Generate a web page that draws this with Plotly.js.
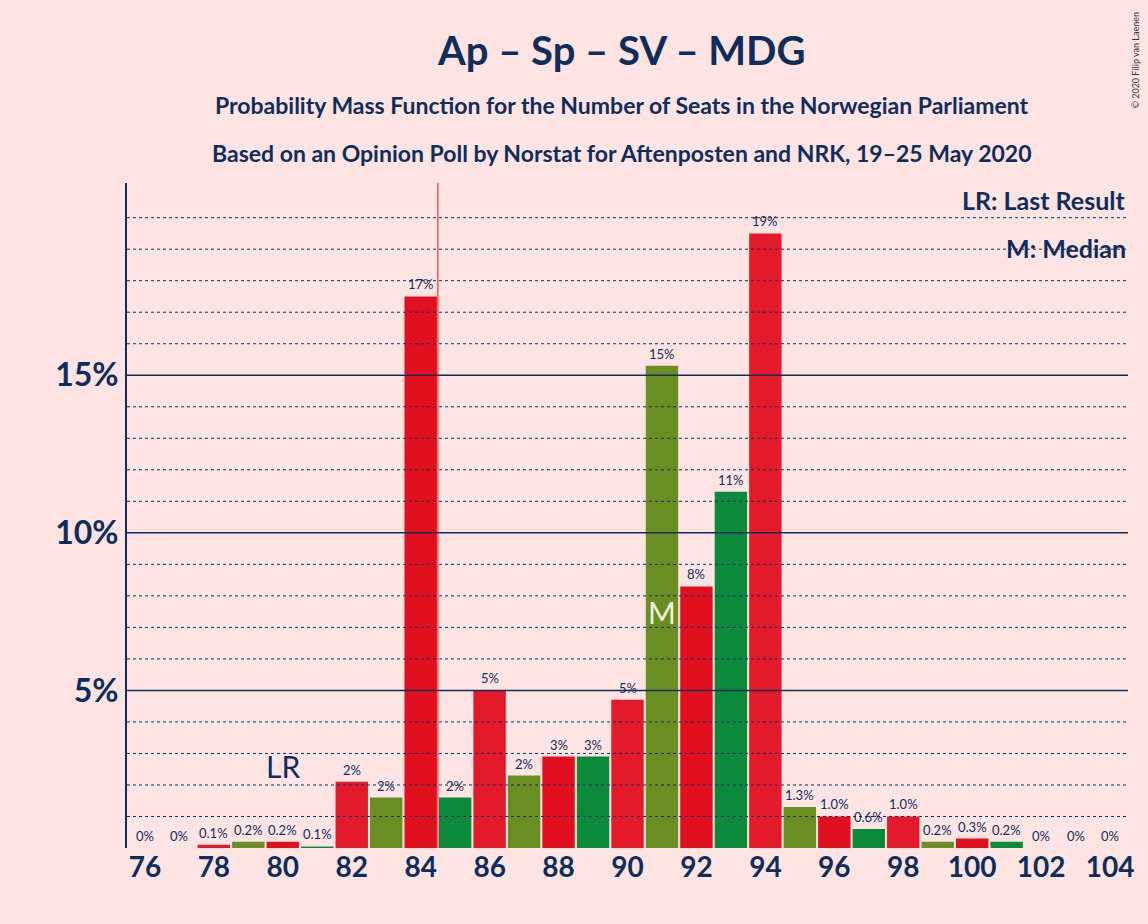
<!DOCTYPE html>
<html><head><meta charset="utf-8">
<script src="https://cdn.plot.ly/plotly-3.0.1.min.js"></script>
<style>body{margin:0;background:#FFE4E4}</style></head>
<body><div id="c" style="width:1148px;height:924px"></div>
<script>
const seats = [76,77,78,79,80,81,82,83,84,85,86,87,88,89,90,91,92,93,94,95,96,97,98,99,100,101,102,103,104];
const probs = [0,0,0.1,0.2,0.2,0.05,2.1,1.6,17.5,1.6,5.0,2.3,2.9,2.9,4.7,15.3,8.3,11.3,19.5,1.3,1.0,0.6,1.0,0.2,0.3,0.2,0,0,0];
const labels = ["0%","0%","0.1%","0.2%","0.2%","0.1%","2%","2%","17%","2%","5%","2%","3%","3%","5%","15%","8%","11%","19%","1.3%","1.0%","0.6%","1.0%","0.2%","0.3%","0.2%","0%","0%","0%"];
const colors = seats.map(s=> s%2===0 ? (s%4===0?"#E0101E":"#E31A2A") : (s%4===3?"#6B8E23":"#0A8A3A"));
const navy = "#0F2D5A";
const shapes = [];
for (let v=1; v<=20; v++) {
  if (v%5===0 && v<20) shapes.push({type:'line',xref:'paper',x0:0,x1:1,y0:v,y1:v,line:{color:navy,width:1.5}});
  else shapes.push({type:'line',xref:'paper',x0:0,x1:1,y0:v,y1:v,line:{color:navy,width:1,dash:'dot'}});
}
shapes.push({type:'line',x0:84.5,x1:84.5,yref:'paper',y0:0,y1:1,line:{color:'#E0101E',width:1}});
const annotations = seats.map((s,i)=>({x:s,y:probs[i],text:labels[i],showarrow:false,yanchor:'bottom',yshift:2,font:{size:13,color:navy,family:'Lato'}}));
annotations.push({x:80,y:2.6,text:'LR',showarrow:false,font:{size:30,color:navy,family:'Lato'}});
annotations.push({x:91,y:7.5,text:'M',showarrow:false,font:{size:30,color:'#F0F0E0',family:'Lato'}});
annotations.push({xref:'paper',yref:'paper',x:1,y:0.974,xanchor:'right',yanchor:'middle',text:'<b>LR: Last Result</b>',showarrow:false,font:{size:25,color:navy,family:'Lato'}});
annotations.push({xref:'paper',yref:'paper',x:1,y:0.902,xanchor:'right',yanchor:'middle',text:'<b>M: Median</b>',showarrow:false,font:{size:25,color:navy,family:'Lato'}});
annotations.push({xref:'paper',yref:'paper',x:0.5,xshift:-6,y:1.2,yanchor:'middle',text:'<b>Ap – Sp – SV – MDG</b>',showarrow:false,font:{size:40,color:navy,family:'Lato'}});
annotations.push({xref:'paper',yref:'paper',x:0.5,xshift:-6,y:1.117,yanchor:'middle',text:'<b>Probability Mass Function for the Number of Seats in the Norwegian Parliament</b>',showarrow:false,font:{size:23,color:navy,family:'Lato'}});
annotations.push({xref:'paper',yref:'paper',x:0.5,xshift:-6,y:1.045,yanchor:'middle',text:'<b>Based on an Opinion Poll by Norstat for Aftenposten and NRK, 19–25 May 2020</b>',showarrow:false,font:{size:23,color:navy,family:'Lato'}});
annotations.push({xref:'paper',yref:'paper',x:1.0,xshift:8,y:1.26,xanchor:'center',yanchor:'top',text:'© 2020 Filip van Laenen',textangle:-90,showarrow:false,font:{size:9,color:'#333',family:'Lato'}});
Plotly.newPlot('c',[{type:'bar',x:seats,y:probs,marker:{color:colors},hoverinfo:'none'}],{
  width:1148,height:924,paper_bgcolor:'#FFE4E4',plot_bgcolor:'#FFE4E4',
  margin:{l:127,r:20,t:183,b:76},bargap:0.06,showlegend:false,
  xaxis:{range:[75.48,104.52],tickvals:[76,78,80,82,84,86,88,90,92,94,96,98,100,102,104],ticktext:[76,78,80,82,84,86,88,90,92,94,96,98,100,102,104].map(v=>'<b>'+v+'</b>'),ticks:'',showgrid:false,zeroline:false,tickfont:{size:28,color:navy,family:'Lato'}},
  yaxis:{range:[0,21.1],tickvals:[5,10,15],ticktext:['<b>5%</b>','<b>10%</b>','<b>15%</b>'],showgrid:false,zeroline:false,showline:true,linecolor:navy,linewidth:2,tickfont:{size:32,color:navy,family:'Lato'}},
  shapes:shapes,annotations:annotations
},{staticPlot:true});
</script></body></html>
